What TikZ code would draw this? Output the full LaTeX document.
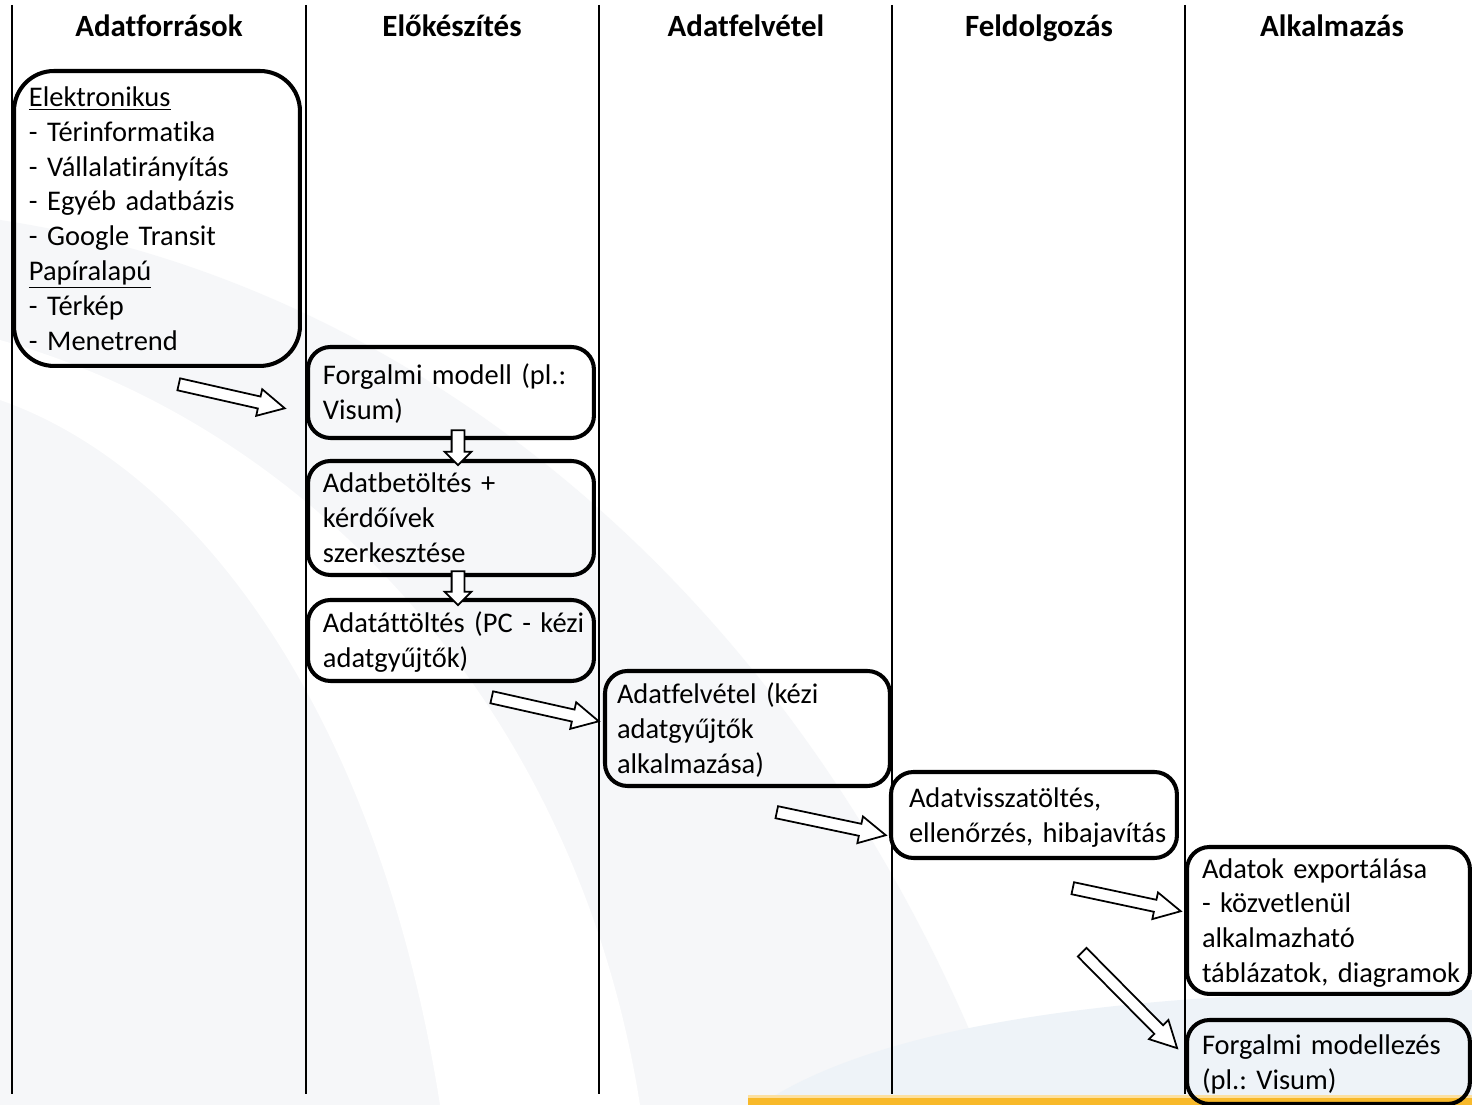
\documentclass[tikz,border=0pt]{standalone}
\usepackage{fontspec}
\setmainfont{Carlito}[Ligatures=NoCommon]
\usetikzlibrary{calc,shapes.arrows}
\frenchspacing
\definecolor{swooshgrey}{RGB}{246,247,249}
\definecolor{swooshblue}{RGB}{238,243,248}
\definecolor{barorange}{RGB}{248,185,42}
\definecolor{barlight}{RGB}{252,224,160}
\newcommand{\bodyfont}{\fontsize{16.2pt}{19.85pt}\selectfont}
\newcommand{\headfont}{\fontsize{17.6pt}{21pt}\selectfont\bfseries}
\newcommand{\boxtext}[1]{\noindent\begin{tabular}{@{}l@{}}\rule{0pt}{17.2pt}#1\end{tabular}}
\def\blockarrow[#1](#2)(#3){\path let \p1=($(#3)-(#2)$), \n1={atan2(\y1,\x1)}, \n2={veclen(\x1,\y1)} in node[#1, minimum height=\n2, rotate=\n1] at ($(#2)!0.5!(#3)$) {};}
\tikzset{
	stepbox/.style={draw=black, line width=2.3pt, rounded corners=0.45cm, align=left, inner xsep=0.3cm, inner ysep=0pt, outer sep=0pt, anchor=north west, font=\bodyfont},
	colhead/.style={font=\headfont, inner sep=0pt, anchor=base},
	flowarrow/.style={single arrow, draw=black, fill=white, line width=1pt, inner xsep=0pt, inner ysep=0.105cm, single arrow head extend=0.15cm, single arrow tip angle=55},
	downarrow/.style={flowarrow, inner ysep=0.11cm, single arrow head extend=0.14cm, single arrow tip angle=90},
	divider/.style={line width=1.1pt}
}
\begin{document}
\begin{tikzpicture}[x=0.02cm, y=-0.02cm]
		%%%%% START %%%%%
		\useasboundingbox (0,0) rectangle (1472,1105);
		
		% background
		\fill[white] (0,0) rectangle (1472,1105);
		\fill[swooshgrey] (0,220) .. controls (400,280) and (800,580) .. (1000,1105) -- (0,1105) -- cycle;
		\fill[white] (0,400) .. controls (200,470) and (380,720) .. (440,1105) -- (640,1105) .. controls (580,720) and (320,430) .. (0,340) -- cycle;
		\fill[swooshblue] (760,1105) .. controls (900,1010) and (1200,990) .. (1472,990) -- (1472,1105) -- cycle;
		\fill[barorange] (748,1097) rectangle (1472,1105);
		\fill[barlight] (748,1095) rectangle (1472,1098);
		
		% columns
		\draw[divider] (12,5) -- (12,1094);
		\draw[divider] (306,5) -- (306,1094);
		\draw[divider] (599,5) -- (599,1094);
		\draw[divider] (892,5) -- (892,1094);
		\draw[divider] (1185,5) -- (1185,1094);
		
		\node[colhead] (hsrc) at (159,37) {Adatforrások};
		\node[colhead] (hprep) at (452,37) {Előkészítés};
		\node[colhead] (hsurvey) at (746,37) {Adatfelvétel};
		\node[colhead] (hproc) at (1039,37) {Feldolgozás};
		\node[colhead] (happ) at (1332,37) {Alkalmazás};
		
		% boxes
		\node[stepbox, rounded corners=0.8cm, text width=5.12cm, minimum height=5.9cm] (src) at (14,71)
			{\boxtext{\underline{Elektronikus}\\- Térinformatika\\- Vállalatirányítás\\- Egyéb adatbázis\\- Google Transit\\\underline{Papíralapú}\\- Térkép\\- Menetrend}};
		\node[stepbox, text width=5.12cm, minimum height=1.82cm] (model) at (308,347)
			{\boxtext{Forgalmi modell (pl.:\\Visum)}};
		\node[stepbox, text width=5.12cm, minimum height=2.28cm] (load) at (308,461)
			{\boxtext{Adatbetöltés +\\kérdőívek\\szerkesztése}};
		\node[stepbox, text width=5.12cm, minimum height=1.62cm] (xfer) at (308,600)
			{\boxtext{Adatáttöltés (PC - kézi\\adatgyűjtők)}};
		\node[stepbox, inner xsep=0.24cm, text width=5.22cm, minimum height=2.30cm] (survey) at (605,671)
			{\boxtext{Adatfelvétel (kézi\\adatgyűjtők\\alkalmazása)}};
		\node[stepbox, inner xsep=0.36cm, text width=5.0cm, minimum height=1.72cm] (check) at (891,772)
			{\boxtext{Adatvisszatöltés,\\ellenőrzés, hibajavítás}};
		\node[stepbox, text width=5.06cm, minimum height=2.94cm] (export) at (1187,847)
			{\boxtext{Adatok exportálása\\- közvetlenül\\alkalmazható\\táblázatok, diagramok}};
		\node[stepbox, text width=5.06cm, minimum height=1.68cm] (modeling) at (1187,1020)
			{\boxtext{Forgalmi modellezés\\(pl.: Visum)}};
		
		% arrows
		\coordinate (a1s) at (173,383);
		\coordinate (a1e) at (279,407);
		\coordinate (a2s) at (458,427);
		\coordinate (a2e) at (458,462);
		\coordinate (a3s) at (458,568);
		\coordinate (a3e) at (458,602);
		\coordinate (a4s) at (486,696);
		\coordinate (a4e) at (593,720);
		\coordinate (a5s) at (771,811);
		\coordinate (a5e) at (880,834);
		\coordinate (a6s) at (1067,887);
		\coordinate (a6e) at (1175,910);
		\coordinate (a7s) at (1078,948);
		\coordinate (a7e) at (1173,1044);
		
		\blockarrow[flowarrow, name=srctomodel](a1s)(a1e)
		\blockarrow[downarrow, name=modeltoload](a2s)(a2e)
		\blockarrow[downarrow, name=loadtoxfer](a3s)(a3e)
		\blockarrow[flowarrow, name=xfertosurvey](a4s)(a4e)
		\blockarrow[flowarrow, name=surveytocheck](a5s)(a5e)
		\blockarrow[flowarrow, name=checktoexport](a6s)(a6e)
		\blockarrow[flowarrow, name=checktomodeling](a7s)(a7e)
		%%%%% END %%%%%
\end{tikzpicture}
\end{document}
